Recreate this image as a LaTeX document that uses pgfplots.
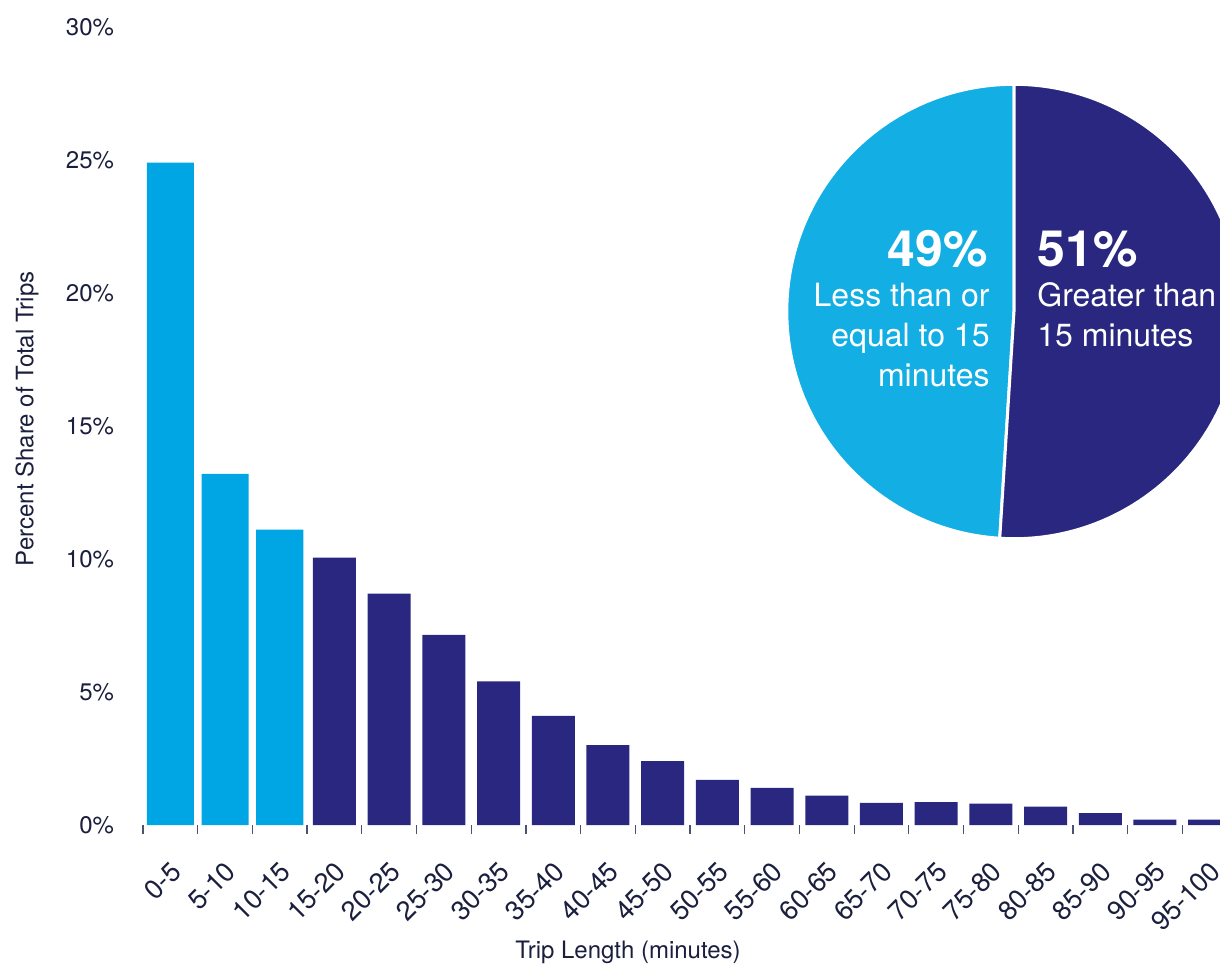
\documentclass[border=0pt]{standalone}
\usepackage{fontspec}
\setmainfont{TeX Gyre Heros}
\usepackage{pgfplots}
\pgfplotsset{compat=1.18}
\definecolor{lblue}{HTML}{00A6E4}
\definecolor{pblue}{HTML}{12AEE4}
\definecolor{navy}{HTML}{29277F}
\definecolor{txt}{HTML}{1A1F3D}
\definecolor{tickc}{HTML}{4A5270}
\begin{document}
\begin{tikzpicture}
\useasboundingbox (-71.5pt,-70pt) rectangle (538.5pt,412.5pt);
\clip (-71.5pt,-70pt) rectangle (538.5pt,412.5pt);
\begin{axis}[
  at={(0pt,0pt)}, anchor=south west,
  scale only axis, width=547pt, height=399pt,
  xmin=-0.5, xmax=19.5, ymin=0, ymax=30,
  ybar, bar shift=0pt,
  axis line style={draw=none},
  xtick={0,...,19},
  xticklabels={0-5,5-10,10-15,15-20,20-25,25-30,30-35,35-40,40-45,45-50,50-55,55-60,60-65,65-70,70-75,75-80,80-85,85-90,90-95,95-100},
  minor xtick={-0.5,0.5,...,18.5},
  ytick={0,5,...,30},
  yticklabels={0\%,5\%,10\%,15\%,20\%,25\%,30\%},
  major tick length=0pt,
  minor tick length=4.5pt,
  tick align=outside,
  xtick pos=bottom, ytick pos=left,
  minor x tick style={draw=tickc, line width=0.6pt},
  tick label style={font=\fontsize{12}{14}\selectfont, text=txt},
  yticklabel style={xshift=-11pt},
  xticklabel style={font=\fontsize{13.5}{16}\selectfont, xshift=-0.5pt, yshift=-12.5pt, rotate=45, anchor=north east},
  xlabel={Trip Length (minutes)},
  ylabel={Percent Share of Total Trips},
  label style={font=\fontsize{12}{14}\selectfont, text=txt},
  xlabel style={at={(axis description cs:0.4433,-0.1667)}, anchor=base},
  ylabel style={at={(axis description cs:-0.106,0.509)}, anchor=center},
]
\addplot[fill=lblue, draw=none, bar width=23.5pt] coordinates {(0,24.9) (1,13.2) (2,11.1)};
\addplot[fill=navy, draw=none, bar width=21.5pt] coordinates {
(3,10.05) (4,8.7) (5,7.15) (6,5.4) (7,4.1) (8,3.0) (9,2.4) (10,1.7) (11,1.4) (12,1.1)
(13,0.83) (14,0.86) (15,0.8) (16,0.69) (17,0.45) (18,0.2) (19,0.2)};
\end{axis}
% pie: 49% / 51%
\pgfmathsetmacro{\aend}{90+49*3.6}
\filldraw[fill=pblue, draw=white, line width=1.5pt] (435.5pt,256.75pt) -- ++(90:113.6pt) arc[start angle=90, end angle=\aend, radius=113.6pt] -- cycle;
\filldraw[fill=navy, draw=white, line width=1.5pt] (435.5pt,256.75pt) -- ++(\aend:113.6pt) arc[start angle=\aend, end angle=450, radius=113.6pt] -- cycle;
\node[anchor=base east, text=white, font=\fontsize{25}{29}\selectfont\bfseries, inner sep=0pt] at (422.5pt,279pt) {49\%};
\node[anchor=base east, text=white, font=\fontsize{16}{19}\selectfont, inner sep=0pt] at (423.5pt,259pt) {Less than or};
\node[anchor=base east, text=white, font=\fontsize{16}{19}\selectfont, inner sep=0pt] at (423.5pt,239.5pt) {equal to 15};
\node[anchor=base east, text=white, font=\fontsize{16}{19}\selectfont, inner sep=0pt] at (423.5pt,219.5pt) {minutes};
\node[anchor=base west, text=white, font=\fontsize{25}{29}\selectfont\bfseries, inner sep=0pt] at (447pt,279pt) {51\%};
\node[anchor=base west, text=white, font=\fontsize{16}{19}\selectfont, inner sep=0pt] at (447pt,259pt) {Greater than};
\node[anchor=base west, text=white, font=\fontsize{16}{19}\selectfont, inner sep=0pt] at (447pt,239.5pt) {15 minutes};
\end{tikzpicture}
\end{document}
